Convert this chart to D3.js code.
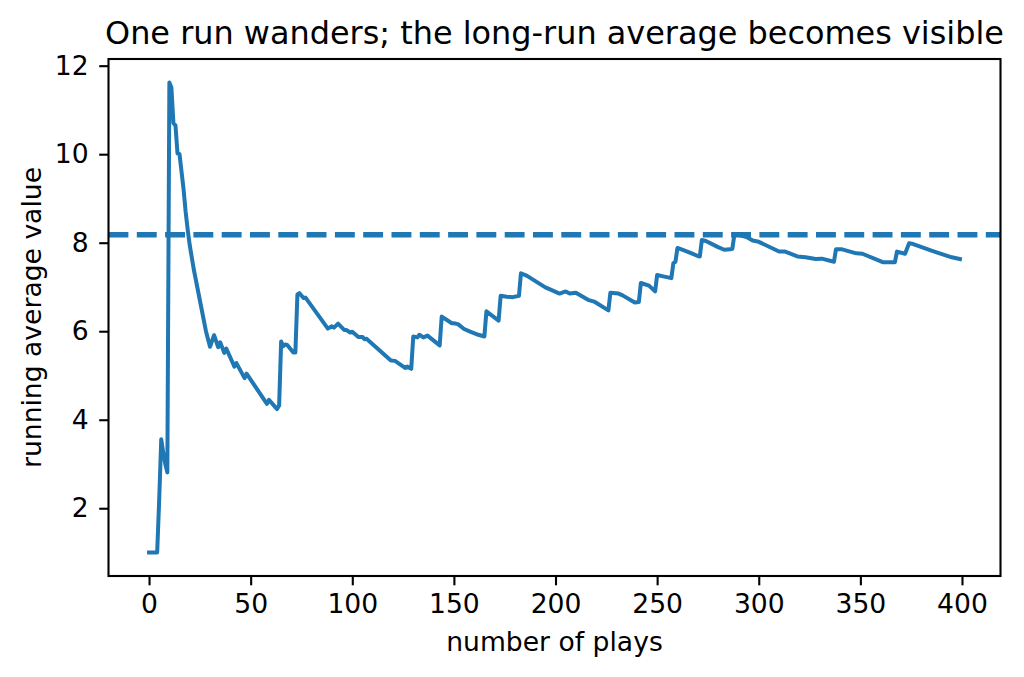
<!DOCTYPE html>
<html>
<head>
<meta charset="utf-8">
<script src="https://cdn.jsdelivr.net/npm/d3@7"></script>
<style>
  html, body { margin: 0; padding: 0; background: #fff; }
  svg { display: block; font-family: "DejaVu Sans", sans-serif; }
</style>
</head>
<body>
<svg id="chart" width="1024" height="677"></svg>
<script>
// ---- data ----
const plays = [0, 4, 5, 6, 7, 8, 9, 10, 11, 12, 13, 14, 15, 16, 17, 18, 19, 20, 22, 25, 28, 30,
  32, 34, 35, 37, 38, 42, 43, 47, 48, 58, 59, 63, 64, 65, 66, 67, 68, 71, 72, 73, 74, 76, 77,
  88, 90, 91, 93, 96, 97, 99, 100, 103, 105, 106, 107, 119, 121, 126, 127, 129, 130, 132, 133,
  135, 137, 143, 144, 149, 150, 152, 155, 158, 162, 165, 166, 172, 173, 176, 179, 182, 183, 186,
  195, 197, 202, 205, 207, 210, 216, 219, 226, 227, 231, 233, 239, 241, 242, 246, 249, 250, 253,
  257, 258, 259, 260, 262, 267, 270, 271, 272, 274, 280, 283, 286, 287, 288, 290, 294, 297, 300,
  310, 313, 319, 323, 328, 331, 337, 338, 341, 348, 351, 361, 367, 368, 372, 374, 376, 385, 389,
  395, 399];
const runningAvg = [1.0, 1.0, 2.2, 3.56, 3.25, 3.0, 2.81, 11.62, 11.5, 10.7, 10.65, 10.02, 10.0,
  9.6, 9.2, 8.7, 8.3, 7.95, 7.4, 6.7, 6.0, 5.65,
  5.91, 5.64, 5.75, 5.51, 5.61, 5.2, 5.28, 4.94, 5.04, 4.36, 4.45, 4.24, 4.32, 5.77, 5.66, 5.7,
  5.69, 5.52, 5.52, 6.83, 6.86, 6.75, 6.76,
  6.06, 6.11, 6.08, 6.17, 6.03, 6.03, 5.97, 5.99, 5.87, 5.87, 5.82, 5.83, 5.34, 5.33, 5.17, 5.2,
  5.15, 5.88, 5.86, 5.92,
  5.86, 5.9, 5.68, 6.33, 6.18, 6.18, 6.16, 6.05, 5.99, 5.92, 5.88, 6.45, 6.24, 6.8, 6.78, 6.77,
  6.8, 7.31, 7.25,
  6.99, 6.95, 6.85, 6.9, 6.85, 6.87, 6.71, 6.67, 6.47, 6.87, 6.85, 6.81, 6.65, 6.66, 7.09, 7.03,
  6.9, 7.27, 7.24,
  7.2, 7.54, 7.57, 7.88, 7.85, 7.76, 7.7, 7.69, 8.06, 8.04, 7.9, 7.84, 7.85, 7.86, 8.18, 8.18,
  8.13, 8.05, 8.02,
  7.8, 7.8, 7.69, 7.67, 7.63, 7.64, 7.57, 7.85, 7.85, 7.76, 7.75, 7.56, 7.56, 7.8, 7.75, 7.99,
  7.97, 7.82, 7.76,
  7.67, 7.63];
const longRunAverage = 8.18;
const xTicks = [0, 50, 100, 150, 200, 250, 300, 350, 400];
const yTicks = [2, 4, 6, 8, 10, 12];
const titleText = "One run wanders; the long-run average becomes visible";
const xLabelText = "number of plays";
const yLabelText = "running average value";

// ---- layout ----
const svg = d3.select("#chart");
const padL = 108.5, padR = 1000.5, padT = 59, padB = 576;
const blue = "#1f77b4";
const fontPx = 26.6;

const xMin = d3.min(plays), xMax = d3.max(plays);
const xPad = (xMax - xMin) * 0.05;
const yMin = d3.min(runningAvg), yMax = d3.max(runningAvg);
const yPad = (yMax - yMin) * 0.05;

const x = d3.scaleLinear().domain([xMin - xPad, xMax + xPad]).range([padL, padR]);
const y = d3.scaleLinear().domain([yMin - yPad, yMax + yPad]).range([padB, padT]);

const data = plays.map((p, i) => ({ p, v: runningAvg[i] }));

svg.append("defs").append("clipPath").attr("id", "plotclip")
  .append("rect").attr("x", padL).attr("y", padT).attr("width", padR - padL).attr("height", padB - padT);

const plot = svg.append("g").attr("clip-path", "url(#plotclip)");

plot.append("line")
  .attr("x1", padL).attr("x2", padR)
  .attr("y1", y(longRunAverage)).attr("y2", y(longRunAverage))
  .attr("stroke", blue).attr("stroke-width", 5.3)
  .attr("stroke-dasharray", "19.9,8.4");

plot.append("path")
  .datum(data)
  .attr("fill", "none")
  .attr("stroke", blue)
  .attr("stroke-width", 4)
  .attr("stroke-linejoin", "round")
  .attr("stroke-linecap", "square")
  .attr("d", d3.line().x(d => x(d.p)).y(d => y(d.v)));

const xAxis = d3.axisBottom(x).tickValues(xTicks).tickSize(9.3).tickPadding(9.3).tickFormat(d3.format("d"));
const yAxis = d3.axisLeft(y).tickValues(yTicks).tickSize(9.3).tickPadding(10.5).tickFormat(d3.format("d"));

const gx = svg.append("g").attr("transform", `translate(0,${padB})`).call(xAxis);
const gy = svg.append("g").attr("transform", `translate(${padL},0)`).call(yAxis);
[gx, gy].forEach(g => {
  g.select(".domain").remove();
  g.selectAll(".tick line").attr("stroke", "#000").attr("stroke-width", 2.1);
  g.selectAll(".tick text").attr("fill", "#000").style("font-size", fontPx + "px")
    .style("font-family", "'DejaVu Sans', sans-serif");
});

svg.append("rect")
  .attr("x", padL).attr("y", padT)
  .attr("width", padR - padL).attr("height", padB - padT)
  .attr("fill", "none").attr("stroke", "#000").attr("stroke-width", 2.1);

svg.append("text")
  .attr("x", (padL + padR) / 2).attr("y", 44)
  .attr("text-anchor", "middle")
  .style("font-size", (fontPx * 1.2) + "px")
  .text(titleText);

svg.append("text")
  .attr("x", (padL + padR) / 2).attr("y", 651)
  .attr("text-anchor", "middle")
  .style("font-size", fontPx + "px")
  .text(xLabelText);

svg.append("text")
  .attr("transform", `translate(41,${(padT + padB) / 2}) rotate(-90)`)
  .attr("text-anchor", "middle")
  .style("font-size", fontPx + "px")
  .text(yLabelText);
</script>
</body>
</html>
